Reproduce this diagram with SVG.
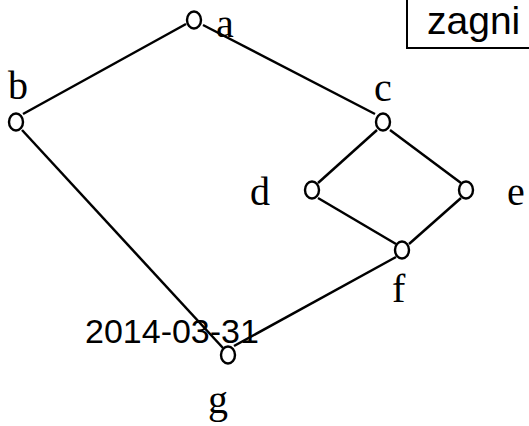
<svg xmlns="http://www.w3.org/2000/svg" width="529" height="426" viewBox="0 0 529 426">
  <style>
    .edge { stroke: #000; stroke-width: 2.5; fill: none; }
    .node { stroke: #000; stroke-width: 2.4; fill: #fff; }
    .lbl { font-family: "Liberation Serif", "Times New Roman", serif; font-size: 40px; fill: #000; }
    .sans { font-family: "Liberation Sans", Arial, sans-serif; fill: #000; }
  </style>
  <rect width="529" height="426" fill="#fff"/>

  <!-- title box, running off the right edge -->
  <g id="title">
    <rect x="407" y="-4" width="140" height="52" fill="#fff" stroke="#000" stroke-width="2"/>
    <text class="sans" x="427" y="34" font-size="39">zagni</text>
  </g>

  <!-- Hasse diagram edges -->
  <g id="connectors">
    <line class="edge" x1="186" y1="24" x2="23" y2="114"/>
    <line class="edge" x1="203" y1="25" x2="375" y2="114"/>
    <line class="edge" x1="22" y1="130" x2="223" y2="348"/>
    <line class="edge" x1="377" y1="130" x2="318" y2="183"/>
    <line class="edge" x1="390" y1="130" x2="461" y2="183"/>
    <line class="edge" x1="318" y1="198" x2="396" y2="244"/>
    <line class="edge" x1="461" y1="198" x2="409" y2="244"/>
    <line class="edge" x1="396" y1="257" x2="234" y2="346"/>
  </g>

  <text class="sans" x="85" y="343" font-size="34">2014-03-31</text>

  <g id="a"><ellipse class="node" cx="194" cy="20" rx="7" ry="8.5"/><text class="lbl" x="216" y="37">a</text></g>
  <g id="b"><ellipse class="node" cx="16" cy="122" rx="7" ry="8.5"/><text class="lbl" x="8" y="99">b</text></g>
  <g id="c"><ellipse class="node" cx="383" cy="122" rx="7" ry="8.5"/><text class="lbl" x="374" y="101">c</text></g>
  <g id="d"><ellipse class="node" cx="312" cy="190" rx="7" ry="8.5"/><text class="lbl" x="250" y="205">d</text></g>
  <g id="e"><ellipse class="node" cx="466" cy="190" rx="7" ry="8.5"/><text class="lbl" x="507" y="205">e</text></g>
  <g id="f"><ellipse class="node" cx="402" cy="250" rx="7" ry="8.5"/><text class="lbl" x="392" y="302">f</text></g>
  <g id="g"><ellipse class="node" cx="228" cy="355" rx="7" ry="8.5"/><text class="lbl" x="208" y="413">g</text></g>
</svg>
